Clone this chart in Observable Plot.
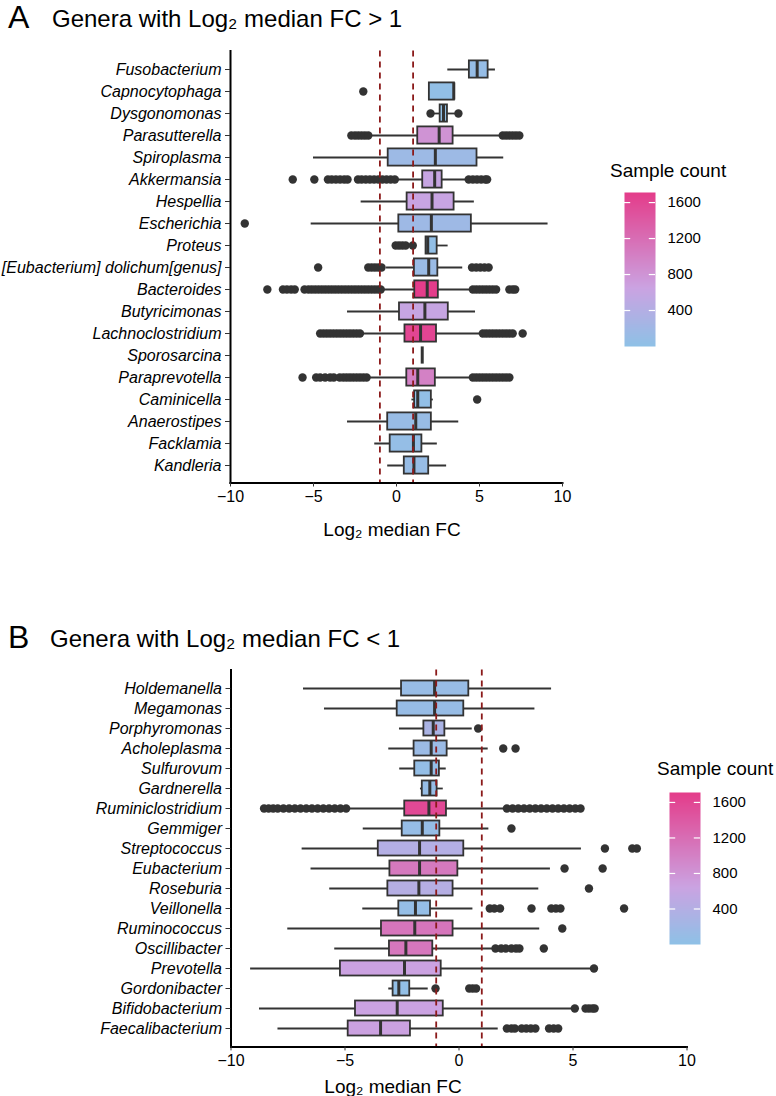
<!DOCTYPE html>
<html><head><meta charset="utf-8">
<script src="https://cdn.jsdelivr.net/npm/d3@7"></script>
<script src="https://cdn.jsdelivr.net/npm/@observablehq/plot@0.6"></script>
<style>
body{margin:0;background:#fff;}
#root{position:relative;width:776px;height:1096px;font-family:"Liberation Sans",Arial,Helvetica,sans-serif;color:#000;overflow:hidden;background:#fff}
.abs{position:absolute;white-space:nowrap;line-height:1;margin:0}
#root svg{position:absolute;}
</style></head><body><div id="root"></div>
<script>
// ---------------- Panel A data ----------------
const generaA = ["Fusobacterium","Capnocytophaga","Dysgonomonas","Parasutterella","Spiroplasma","Akkermansia","Hespellia","Escherichia","Proteus","[Eubacterium] dolichum[genus]","Bacteroides","Butyricimonas","Lachnoclostridium","Sporosarcina","Paraprevotella","Caminicella","Anaerostipes","Facklamia","Kandleria"];
const q1A  = [4.39, 1.98, 2.63, 1.28, -0.5, 1.58, 0.64, 0.14, 1.78, 1.08, 1.1, 0.18, 0.51, 1.55, 0.62, 1.09, -0.53, -0.38, 0.47];
const medA = [4.86, 3.45, 2.83, 2.57, 2.34, 2.3, 2.14, 2.1, 1.88, 1.94, 1.85, 1.71, 1.45, 1.55, 1.28, 1.28, 1.16, 1.02, 1.05];
const q3A  = [5.52, 3.49, 3.07, 3.41, 4.85, 2.75, 3.47, 4.51, 2.45, 2.49, 2.52, 3.12, 2.41, 1.55, 2.34, 2.1, 2.1, 1.53, 1.94];
const loA  = [3.09, 1.98, 2.05, -1.66, -5.0, 0.1, -2.13, -5.14, 1.78, -0.6, -0.95, -2.95, -2.13, 1.55, -1.66, 0.93, -2.95, -1.31, -0.53];
const hiA  = [5.96, 3.49, 3.73, 6.36, 6.46, 4.25, 4.69, 9.13, 3.11, 3.99, 4.58, 4.76, 5.16, 1.55, 4.58, 2.22, 3.75, 2.46, 3.02];
const countA = [80, 40, 30, 820, 160, 600, 620, 170, 40, 130, 1700, 600, 1620, 5, 1000, 40, 110, 70, 100];
const outA = [
  [],
  [-2.0],
  [2.05, 3.73],
  [-2.72, -2.5, -2.3, -2.1, -1.9, -1.7, 6.4, 6.6, 6.8, 7.0, 7.2, 7.4],
  [],
  [-6.25, -4.95, -4.13, -3.9, -3.65, -3.4, -3.15, -2.95, -2.32, -2.1, -1.85, -1.6, -1.35, -1.1, -0.85, -0.6, -0.35, -0.1, 4.35, 4.6, 4.85, 5.1, 5.35, 5.46],
  [],
  [-9.14],
  [-0.05, 0.15, 0.35, 0.55, 0.98],
  [-4.72, -1.7, -1.5, -1.3, -1.1, -0.9, 4.55, 4.8, 5.05, 5.3, 5.55],
  [-7.78, -6.84, -6.6, -6.35, -6.13, -5.54, -5.3, -5.1, -4.9, -4.7, -4.5, -4.3, -4.1, -3.9, -3.7, -3.5, -3.3, -3.1, -2.9, -2.7, -2.5, -2.3, -2.1, -1.9, -1.7, -1.5, -1.3, -1.1, -0.95, 4.6, 4.8, 5.0, 5.2, 5.4, 5.6, 5.8, 6.0, 6.8, 7.0, 7.15],
  [],
  [-4.6, -4.4, -4.2, -4.0, -3.8, -3.6, -3.4, -3.2, -3.0, -2.8, -2.6, -2.4, -2.2, 5.2, 5.4, 5.6, 5.8, 6.0, 6.2, 6.4, 6.6, 6.8, 7.0, 7.6],
  [],
  [-5.66, -4.84, -4.6, -4.3, -4.0, -3.78, -3.42, -3.2, -3.0, -2.8, -2.6, -2.4, -2.2, -2.0, -1.8, 4.6, 4.8, 5.0, 5.2, 5.4, 5.6, 5.8, 6.0, 6.2, 6.4, 6.6, 6.8],
  [4.86],
  [],
  [],
  []
];

// ---------------- Panel B data ----------------
const generaB = ["Holdemanella","Megamonas","Porphyromonas","Acholeplasma","Sulfurovum","Gardnerella","Ruminiclostridium","Gemmiger","Streptococcus","Eubacterium","Roseburia","Veillonella","Ruminococcus","Oscillibacter","Prevotella","Gordonibacter","Bifidobacterium","Faecalibacterium"];
const q1B  = [-2.52, -2.71, -1.54, -1.97, -1.94, -1.61, -2.38, -2.49, -3.54, -3.03, -3.12, -2.64, -3.4, -3.05, -5.2, -2.89, -4.54, -4.86];
const medB = [-1.07, -1.07, -1.13, -1.22, -1.22, -1.28, -1.32, -1.61, -1.73, -1.73, -1.76, -1.91, -1.94, -2.33, -2.39, -2.64, -2.71, -3.44];
const q3B  = [0.43, 0.21, -0.62, -0.52, -0.86, -0.96, -0.55, -0.84, 0.21, -0.05, -0.26, -1.25, -0.26, -1.15, -0.78, -2.16, -0.69, -2.13];
const loB  = [-6.82, -5.9, -2.61, -3.08, -2.6, -1.69, -4.92, -4.2, -6.88, -6.49, -5.67, -4.22, -7.51, -5.45, -9.14, -3.08, -8.75, -7.94];
const hiB  = [4.06, 3.33, 0.58, 1.28, -0.56, -0.69, 2.04, 1.31, 5.37, 4.01, 3.5, 0.61, 3.54, 1.53, 5.8, -1.35, 5.0, 1.72];
const countB = [110, 100, 300, 140, 60, 90, 1580, 80, 400, 1080, 420, 70, 1120, 1100, 660, 50, 650, 670];
const outB = [
  [],
  [],
  [0.84],
  [1.94, 2.48],
  [],
  [],
  [-8.55, -8.35, -8.15, -7.95, -7.7, -7.45, -7.2, -6.95, -6.7, -6.45, -6.2, -5.95, -5.7, -5.45, -5.2, -4.95, 2.1, 2.35, 2.6, 2.85, 3.1, 3.35, 3.6, 3.85, 4.1, 4.35, 4.6, 4.85, 5.1, 5.33],
  [2.3],
  [6.4, 7.6, 7.8],
  [4.63, 6.3],
  [5.7],
  [1.35, 1.55, 1.8, 3.18, 4.05, 4.25, 4.45, 7.24],
  [4.53],
  [1.6, 1.85, 2.05, 2.3, 2.5, 2.65, 3.72],
  [5.92],
  [-1.03, 0.45, 0.6, 0.75],
  [5.08, 5.55, 5.7, 5.85, 5.95],
  [2.1, 2.3, 2.45, 2.75, 2.95, 3.15, 3.35, 3.95, 4.15, 4.35]
];

// ---------------- shared scale settings ----------------
const xTicks = [-10, -5, 0, 5, 10];
const thresholds = [-1, 1];
const countStops = [0, 650, 1712];
const countColors = ["#8ec1e6", "#cba3e2", "#e43c8a"];
const legendTicks = [400, 800, 1200, 1600];

const FONT = '"Liberation Sans", Arial, Helvetica, sans-serif';
const colorScale = {type: "linear", domain: countStops, range: countColors, interpolate: "rgb"};

function rowsOf(g, q1, med, q3, lo, hi, cnt) {
  return g.map((genus, i) => ({genus, q1: q1[i], med: med[i], q3: q3[i], lo: lo[i], hi: hi[i], count: cnt[i]}));
}
function outsOf(g, outs) {
  return g.flatMap((genus, i) => outs[i].map(v => ({genus, v})));
}

function panel(rows, outs, o) {
  const svg = Plot.plot({
    width: o.width, height: o.height,
    marginTop: o.mt, marginBottom: o.mb, marginLeft: o.ml, marginRight: o.mr,
    style: {fontFamily: FONT, color: "#000", background: "transparent", overflow: "visible"},
    x: {domain: [-10, 10]},
    y: {domain: rows.map(d => d.genus), paddingInner: 0, paddingOuter: 0.1},
    color: colorScale,
    marks: [
      Plot.ruleY(rows, {y: "genus", x1: "lo", x2: "hi", stroke: "#333", strokeWidth: 1.8}),
      Plot.barX(rows, {y: "genus", x1: "q1", x2: "q3", fill: "count", stroke: "#333", strokeWidth: 1.8, insetTop: o.inset, insetBottom: o.inset}),
      Plot.tickX(rows, {y: "genus", x: "med", stroke: "#333", strokeWidth: 3, insetTop: o.inset, insetBottom: o.inset}),
      Plot.dot(outs, {y: "genus", x: "v", r: 4.2, fill: "#333", stroke: "none"}),
      Plot.ruleX(thresholds, {stroke: "#8b1a1a", strokeWidth: 1.8, strokeDasharray: "6,5"}),
      Plot.frame({anchor: "left", stroke: "#000", strokeWidth: 2}),
      Plot.frame({anchor: "bottom", stroke: "#000", strokeWidth: 2}),
      Plot.axisX({ticks: xTicks, tickSize: 4, tickPadding: 4, fontSize: 16, label: null, stroke: "#333"}),
      Plot.axisY({tickSize: 5, tickPadding: 4, fontSize: 16, fontStyle: "italic", label: null, stroke: "#333"})
    ]
  });
  svg.style.left = o.left + "px";
  svg.style.top = o.top + "px";
  return svg;
}

function legend(o) {
  const svg = Plot.plot({
    width: 120, height: o.height,
    marginTop: 42, marginBottom: o.mb, marginLeft: 14, marginRight: 75,
    style: {fontFamily: FONT, color: "#000", background: "transparent", overflow: "visible"},
    x: {domain: [0, 1], axis: null},
    y: {domain: [countStops[0], countStops[countStops.length - 1]], axis: null},
    color: colorScale,
    marks: [
      Plot.raster({x1: 0, x2: 1, y1: countStops[0], y2: countStops[countStops.length - 1], fill: (x, y) => y}),
      Plot.ruleY(legendTicks, {x1: 0, x2: 0.2, stroke: "white", strokeWidth: 1.2}),
      Plot.ruleY(legendTicks, {x1: 0.8, x2: 1, stroke: "white", strokeWidth: 1.2}),
      Plot.axisY({anchor: "right", ticks: legendTicks, tickFormat: d3.format("d"), tickSize: 0, tickPadding: 12, fontSize: 15, label: null})
    ]
  });
  svg.style.left = o.left + "px";
  svg.style.top = o.top + "px";
  return svg;
}

function text(str, left, baseline, size, extra) {
  const d = document.createElement("div");
  d.className = "abs";
  d.textContent = str;
  d.style.fontSize = size + "px";
  d.style.left = left + "px";
  d.style.top = (baseline - 0.8465 * size) + "px";
  if (extra) Object.assign(d.style, extra);
  return d;
}

const root = document.getElementById("root");

// Panel A
root.appendChild(panel(rowsOf(generaA, q1A, medA, q3A, loA, hiA, countA), outsOf(generaA, outA),
  {left: 0, top: 0, width: 600, height: 510, mt: 50.5, mb: 27.5, ml: 230, mr: 38, inset: 2.4}));
root.appendChild(legend({left: 610, top: 150, height: 206, mb: 10}));
root.appendChild(text("A", 8, 28, 32));
root.appendChild(text("Genera with Log\u2082 median FC > 1", 52, 27, 24));
root.appendChild(text("Sample count", 610, 177, 19));
root.appendChild(text("Log\u2082 median FC", 392, 535.7, 19, {transform: "translateX(-50%)"}));

// Panel B
root.appendChild(panel(rowsOf(generaB, q1B, medB, q3B, loB, hiB, countB), outsOf(generaB, outB),
  {left: 0, top: 620, width: 700, height: 460, mt: 49.6, mb: 33.6, ml: 230.5, mr: 13.5, inset: 2.5}));
root.appendChild(legend({left: 655, top: 750, height: 204, mb: 10}));
root.appendChild(text("B", 8, 648, 32));
root.appendChild(text("Genera with Log\u2082 median FC < 1", 50, 647, 24));
root.appendChild(text("Sample count", 657, 775, 19));
root.appendChild(text("Log\u2082 median FC", 393, 1092.7, 19, {transform: "translateX(-50%)"}));
</script>
</body></html>
